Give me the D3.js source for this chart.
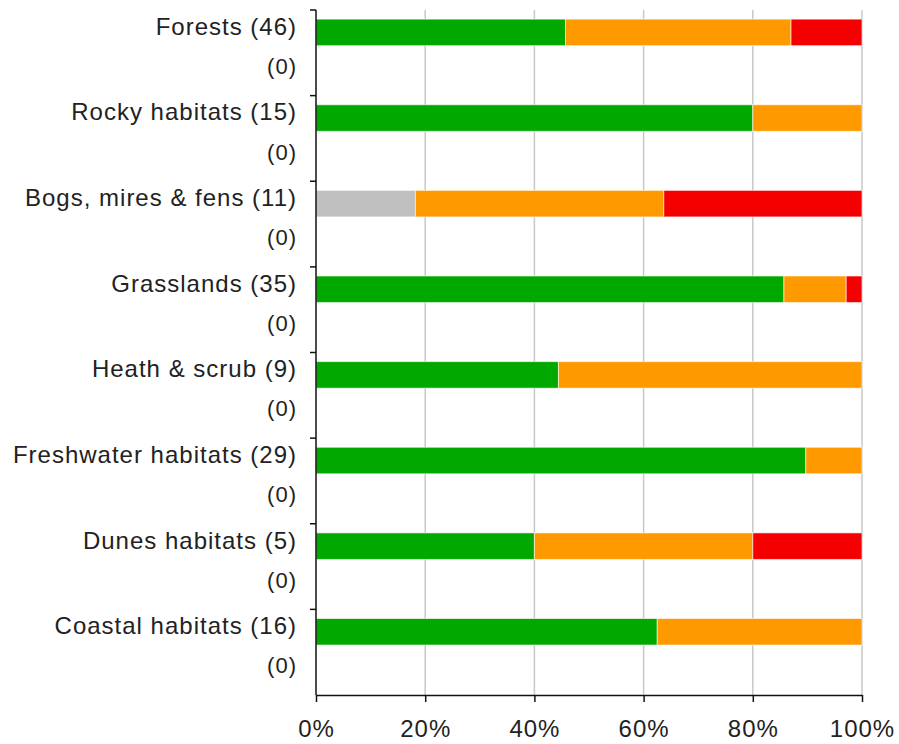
<!DOCTYPE html>
<html>
<head>
<meta charset="utf-8">
<script src="https://cdn.jsdelivr.net/npm/d3@7"></script>
<style>
  body { margin: 0; background: #fff; }
  text { font-family: "Liberation Sans", Arial, sans-serif; fill: #222; letter-spacing: 1px; }
</style>
</head>
<body>
<svg id="chart" width="899" height="744"></svg>
<script>
// Habitat categories, with number of assessments
const categories = ["Forests (46)", "Rocky habitats (15)", "Bogs, mires & fens (11)", "Grasslands (35)",
  "Heath & scrub (9)", "Freshwater habitats (29)", "Dunes habitats (5)", "Coastal habitats (16)"];
const subLabels = ["(0)", "(0)", "(0)", "(0)", "(0)", "(0)", "(0)", "(0)"];

// Share of assessments per status (percent)
const unknown      = [0, 0, 18.2, 0, 0, 0, 0, 0];
const favourable   = [45.7, 80, 0, 85.7, 44.4, 89.7, 40, 62.5];
const inadequate   = [41.3, 20, 45.5, 11.4, 55.6, 10.3, 40, 37.5];
const bad          = [13.0, 0, 36.3, 2.9, 0, 0, 20, 0];

const seriesKeys = ["unknown", "favourable", "inadequate", "bad"];
const colors = { unknown: "#c0c0c0", favourable: "#00a800", inadequate: "#fe9a00", bad: "#f50000" };
const xTicks = [0, 20, 40, 60, 80, 100];

const svg = d3.select("#chart");
const margin = { top: 10, right: 37, bottom: 49, left: 316 };
const width = 899 - margin.left - margin.right;
const height = 744 - margin.top - margin.bottom;
const g = svg.append("g").attr("transform", `translate(${margin.left},${margin.top})`);

// Two slots per category: main row and the "(0)" row
const slots = [];
categories.forEach((c, i) => { slots.push("m" + i); slots.push("s" + i); });

const x = d3.scaleLinear().domain([0, 100]).range([0, width]);
const y = d3.scaleBand().domain(slots).range([0, height]);
const cat = d3.scaleBand().domain(d3.range(categories.length)).range([0, height]);

// Gridlines
g.append("g").selectAll("line").data(xTicks.slice(1)).join("line")
  .attr("x1", d => x(d)).attr("x2", d => x(d))
  .attr("y1", 0).attr("y2", height)
  .attr("stroke", "#c8c8c8").attr("stroke-width", 1.5);

// Stacked bars
const table = categories.map((c, i) => ({
  i, unknown: unknown[i], favourable: favourable[i], inadequate: inadequate[i], bad: bad[i]
}));
const stacked = d3.stack().keys(seriesKeys)(table);
const barH = y.bandwidth() * 0.62;

g.append("g").selectAll("g").data(stacked).join("g")
  .attr("fill", s => colors[s.key])
  .selectAll("rect").data(s => s.filter(d => d[1] - d[0] > 0)).join("rect")
  .attr("x", d => x(d[0]))
  .attr("width", d => x(d[1]) - x(d[0]))
  .attr("y", d => y("m" + d.data.i) + (y.bandwidth() - barH) / 2 + 1)
  .attr("height", barH)
  .attr("stroke", "#ffffff")
  .attr("stroke-opacity", 0.6)
  .attr("stroke-width", 1);

// Y axis
g.append("line").attr("x1", 0).attr("x2", 0).attr("y1", 0).attr("y2", height)
  .attr("stroke", "#111").attr("stroke-width", 1.5);
g.append("g").selectAll("line").data(d3.range(categories.length)).join("line")
  .attr("x1", -6).attr("x2", 0)
  .attr("y1", d => cat(d)).attr("y2", d => cat(d))
  .attr("stroke", "#111").attr("stroke-width", 1.5);

g.append("g").selectAll("text").data(categories).join("text")
  .attr("x", -19)
  .attr("y", (d, i) => y("m" + i) + y.bandwidth() / 2 - 5)
  .attr("dy", "0.35em")
  .attr("text-anchor", "end")
  .attr("font-size", 24)
  .text(d => d);

g.append("g").selectAll("text").data(subLabels).join("text")
  .attr("x", -19)
  .attr("y", (d, i) => y("s" + i) + y.bandwidth() / 2 - 8)
  .attr("dy", "0.35em")
  .attr("text-anchor", "end")
  .attr("font-size", 22)
  .text(d => d);

// X axis
const xAxis = g.append("g").attr("transform", `translate(0,${height})`)
  .call(d3.axisBottom(x).tickValues(xTicks).tickFormat(d => d + "%").tickSizeInner(7).tickSizeOuter(0).tickPadding(18));
xAxis.select(".domain").attr("stroke", "#111").attr("stroke-width", 1.5);
xAxis.selectAll(".tick line").attr("stroke", "#111").attr("stroke-width", 1.5);
xAxis.selectAll(".tick text").attr("font-size", 24).attr("font-family", "Liberation Sans, Arial, sans-serif").attr("fill", "#222");
</script>
</body>
</html>
